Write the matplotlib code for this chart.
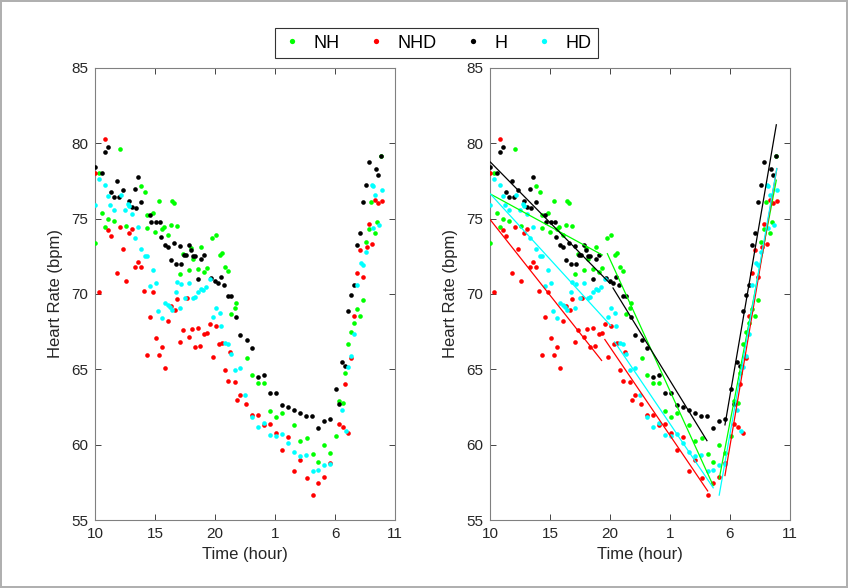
import matplotlib
matplotlib.use("Agg")
import matplotlib.pyplot as plt
import numpy as np
from matplotlib.lines import Line2D

plt.rcParams['font.family'] = ['Liberation Sans', 'DejaVu Sans']

# ---------------- data (time in hours since 0:00 of day 1; 25 = 1 AM) ----------------
series_names = ["NH", "NHD", "H", "HD"]

nh_t = [10.03, 10.3, 10.56, 10.83, 11.08, 11.55, 12.11, 12.55, 13.86, 14.14, 14.3, 14.33,
        14.85, 15.03, 15.3, 15.58, 15.72, 16.08, 16.3, 16.4, 16.58, 16.83, 17.06, 17.33,
        17.83, 18.0, 18.17, 18.58, 18.8, 19.08, 19.36, 19.78, 20.1, 20.39, 20.58, 20.8,
        21.08, 21.36, 21.64, 21.78, 22.64, 23.1, 23.6, 24.1, 24.58, 25.08, 25.6, 26.6,
        27.1, 27.64, 28.14, 28.6, 29.1, 29.58, 30.08, 30.36, 30.64, 30.83, 31.1, 31.33,
        31.58, 31.86, 32.08, 32.36, 32.58, 32.86, 32.97, 33.33, 33.53, 33.86]
nh_v = [73.4, 78.0, 75.4, 74.47, 75.0, 74.86, 79.6, 74.5, 77.19, 76.75, 74.35, 75.25,
        75.4, 74.14, 76.17, 74.3, 74.47, 73.92, 74.58, 76.2, 76.06, 74.52, 71.33, 72.66,
        71.6, 73.04, 72.3, 71.64, 73.1, 71.48, 71.7, 73.7, 73.92, 72.6, 72.74, 71.77,
        71.55, 68.68, 69.05, 69.43, 65.74, 64.63, 64.08, 64.08, 62.24, 61.86, 62.13, 61.31,
        60.27, 60.43, 59.37, 58.88, 59.98, 59.43, 60.58, 62.92, 62.79, 64.78, 66.69, 67.5,
        68.06, 68.99, 68.57, 69.6, 73.47, 74.32, 76.09, 74.03, 74.8, 79.16]

nhd_t = [10.03, 10.33, 10.8, 11.1, 11.33, 11.83, 12.05, 12.3, 12.58, 12.82, 13.07, 13.3,
         13.58, 13.86, 14.08, 14.36, 14.6, 14.8, 15.08, 15.36, 15.56, 15.82, 16.05, 16.33,
         16.67, 16.86, 17.1, 17.35, 17.64, 17.83, 18.07, 18.32, 18.6, 18.78, 19.12, 19.3,
         19.57, 19.82, 20.05, 20.34, 20.58, 20.86, 21.08, 21.28, 21.64, 21.83, 22.1, 22.62,
         23.1, 23.6, 24.1, 24.58, 25.08, 25.6, 26.1, 26.6, 27.1, 27.64, 28.14, 28.6,
         29.1, 29.58, 30.36, 30.64, 30.83, 31.1, 31.33, 31.58, 31.86, 32.08, 32.36, 32.64,
         32.86, 33.06, 33.33, 33.6, 33.9]
nhd_v = [78.05, 70.16, 80.27, 74.25, 73.88, 71.38, 74.47, 73.0, 70.89, 74.03, 74.3, 71.8,
         72.15, 71.8, 70.2, 65.96, 68.45, 70.16, 67.06, 65.96, 66.47, 65.12, 68.22, 69.2,
         68.94, 69.65, 66.82, 67.58, 69.72, 67.17, 67.66, 66.5, 67.77, 66.57, 67.37, 67.43,
         68.0, 65.85, 67.86, 66.65, 66.73, 64.96, 64.23, 66.18, 64.14, 62.97, 63.3, 62.69,
         61.97, 61.97, 61.31, 61.38, 60.76, 59.65, 60.53, 58.26, 58.99, 57.77, 56.67, 57.44,
         57.88, 58.77, 61.38, 61.2, 64.05, 60.8, 65.74, 68.57, 71.38, 72.92, 71.15, 73.14,
         74.65, 73.32, 76.24, 76.02, 76.19]

h_t = [10.03, 10.58, 10.8, 11.08, 11.36, 11.56, 11.83, 11.97, 12.33, 12.8, 13.08, 13.3,
       13.42, 13.58, 13.86, 14.6, 14.7, 15.1, 15.4, 15.5, 15.86, 16.08, 16.36, 16.58,
       16.78, 17.06, 17.2, 17.4, 17.6, 17.8, 18.0, 18.17, 18.36, 18.58, 18.86, 19.08,
       19.7, 20.0, 20.25, 20.5, 20.75, 21.08, 21.3, 21.78, 22.08, 22.64, 23.1, 23.6,
       24.08, 24.6, 25.08, 25.6, 26.1, 26.6, 27.1, 27.6, 28.08, 28.6, 29.1, 29.58,
       30.08, 30.36, 30.6, 30.83, 31.1, 31.33, 31.58, 31.86, 32.08, 32.36, 32.58, 32.86,
       33.42, 33.6, 33.86]
h_v = [78.41, 78.01, 79.45, 79.78, 76.79, 76.46, 77.5, 76.46, 76.9, 76.2, 75.76, 76.95,
       75.69, 77.79, 76.13, 75.25, 74.8, 74.8, 74.8, 73.77, 73.25, 73.1, 72.26, 73.4,
       71.97, 73.2, 71.97, 72.6, 72.6, 73.25, 72.92, 72.5, 72.5, 71.0, 72.3, 72.6,
       71.04, 70.89, 70.75, 71.1, 70.58, 69.87, 69.87, 68.5, 67.28, 66.95, 66.44, 64.5,
       64.65, 63.4, 63.4, 62.64, 62.49, 62.3, 62.1, 61.91, 61.93, 61.13, 61.6, 61.7,
       63.68, 62.7, 65.5, 65.2, 68.9, 69.94, 70.6, 73.25, 74.03, 76.09, 77.24, 78.78,
       78.28, 77.9, 79.16]

hd_t = [10.03, 10.3, 10.86, 11.08, 11.28, 11.56, 12.2, 12.5, 12.75, 12.86, 13.08, 13.3,
        13.58, 13.86, 14.2, 14.33, 14.58, 14.83, 15.08, 15.28, 15.56, 15.83, 16.1, 16.25,
        16.4, 16.75, 16.86, 17.08, 17.2, 17.47, 17.8, 18.17, 18.33, 18.58, 18.86, 19.03,
        19.28, 19.56, 19.83, 20.06, 20.39, 20.53, 20.86, 21.08, 21.3, 21.64, 22.06, 22.53,
        23.1, 23.6, 24.1, 24.58, 25.08, 25.6, 26.1, 26.6, 27.1, 27.6, 28.14, 28.6,
        29.1, 29.58, 30.56, 30.92, 31.1, 31.33, 31.58, 31.86, 32.14, 32.36, 32.58, 33.05,
        33.14, 33.2, 33.33, 33.7, 33.9]
hd_v = [75.9, 77.6, 77.24, 76.5, 75.9, 75.6, 76.57, 75.58, 76.0, 75.85, 75.3, 73.7,
        74.47, 72.97, 72.5, 72.5, 70.53, 71.6, 70.75, 68.87, 68.39, 69.43, 69.27, 69.12,
        68.94, 70.16, 70.82, 69.05, 70.67, 69.72, 70.71, 69.72, 69.83, 70.16, 70.32, 70.27,
        70.45, 70.98, 68.5, 69.05, 68.76, 67.88, 66.73, 66.66, 66.0, 64.96, 65.07, 63.3,
        61.86, 61.16, 61.46, 60.65, 60.58, 60.71, 60.1, 59.54, 59.25, 59.32, 58.26, 58.3,
        58.65, 58.7, 62.3, 60.93, 65.18, 65.89, 67.35, 70.6, 72.04, 71.93, 72.8, 77.24,
        74.36, 77.17, 76.57, 74.58, 76.9]

# time windows (hours) of the three phases used for the linear fits on the right panel
nh_windows = [(10, 19.7), (19.7, 29.0), (29.0, 34)]
nhd_windows = [(10, 19.4), (19.4, 28.3), (29.5, 34)]
h_windows = [(10, 20.2), (20.2, 28.1), (29.5, 34)]
hd_windows = [(10, 20.2), (20.2, 28.8), (28.8, 34)]

x_ticks = [10, 15, 20, 25, 30, 35]
x_tick_labels = ["10", "15", "20", "1", "6", "11"]
y_ticks = [55, 60, 65, 70, 75, 80, 85]

# ---------------- styling ----------------
colors = {"NH": "#00ff00", "NHD": "#ff0000", "H": "#000000", "HD": "#00ffff"}
data = {"NH": (nh_t, nh_v, nh_windows), "NHD": (nhd_t, nhd_v, nhd_windows),
        "H": (h_t, h_v, h_windows), "HD": (hd_t, hd_v, hd_windows)}

W, H = 848, 588
fig = plt.figure(figsize=(W / 100, H / 100), dpi=100)
fig.patch.set_edgecolor("#b0b0b0")
fig.patch.set_linewidth(1.5)

ax_left = fig.add_axes([95 / W, 1 - 520 / H, 300 / W, 452 / H])
ax_right = fig.add_axes([490 / W, 1 - 520 / H, 300 / W, 452 / H])

spine_col = "#262626"
for ax in (ax_left, ax_right):
    for name in series_names:
        t, v, _ = data[name]
        ax.scatter(t, v, s=11, color=colors[name], linewidths=0, zorder=3)
    ax.set_xlim(10, 35)
    ax.set_ylim(55, 85)
    ax.set_xticks(x_ticks)
    ax.set_xticklabels(x_tick_labels)
    ax.set_yticks(y_ticks)
    ax.tick_params(direction="in", top=True, right=True, length=4, width=0.6,
                   labelsize=11, colors=spine_col, labelcolor="#262626", pad=5)
    for sp in ax.spines.values():
        sp.set_color("#808080")
        sp.set_linewidth(0.8)
    ax.set_xlabel("Time (hour)", fontsize=12, color="#262626", labelpad=4)
    ax.set_ylabel("Heart Rate (bpm)", fontsize=12, color="#262626", labelpad=6)

# piecewise linear fits
for name in series_names:
    t, v, windows = data[name]
    t = np.asarray(t)
    v = np.asarray(v)
    for a, b in windows:
        m = (t >= a) & (t < b)
        if m.sum() < 2:
            continue
        p = np.polyfit(t[m], v[m], 1)
        xs = np.array([t[m].min(), t[m].max()])
        ax_right.plot(xs, np.polyval(p, xs), color=colors[name], lw=0.9, zorder=4)

handles = [Line2D([], [], ls="none", marker="o", markersize=3.8, markeredgewidth=0,
                  color=colors[n]) for n in series_names]
leg = fig.legend(handles, series_names, loc="center", bbox_to_anchor=(436.5 / W, 1 - 43 / H),
                 ncol=4, fontsize=13, frameon=True, fancybox=False, edgecolor="#000000",
                 handlelength=1.2, handletextpad=0.6, columnspacing=1.4, borderpad=0.35)
leg.get_frame().set_linewidth(0.8)

fig.savefig("out.png", dpi=100)
